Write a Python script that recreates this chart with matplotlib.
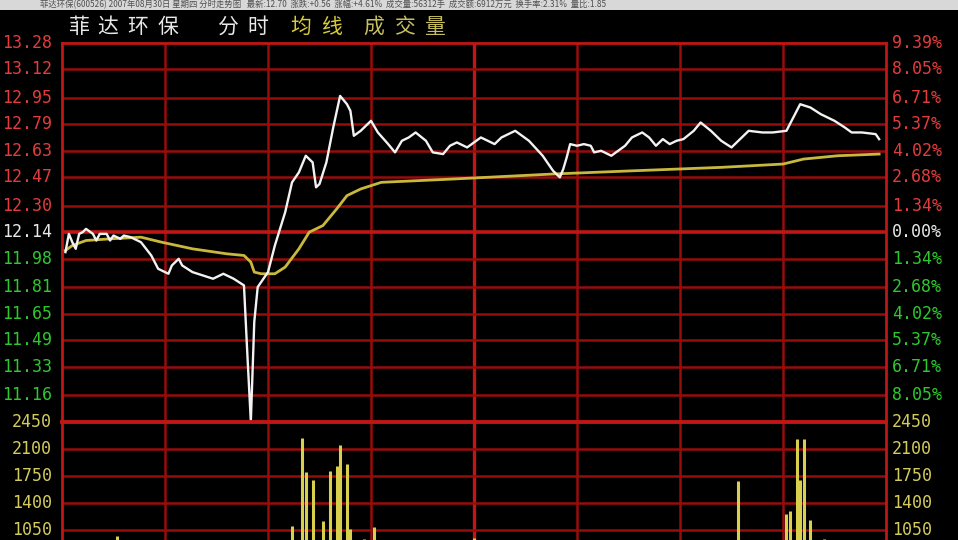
import matplotlib
matplotlib.use("Agg")
import matplotlib.pyplot as plt
from matplotlib.patches import Rectangle

# intraday price (minute, price)
price_min = [1, 2, 3, 4, 5, 6, 7, 9, 10, 11,
             13, 14, 15, 17, 18, 20, 23, 26, 28, 31,
             32, 34, 35, 38, 44, 47, 50, 53, 54, 55,
             56, 57, 58, 60, 62, 65, 67, 69, 71, 73,
             74, 75, 77, 79, 81, 83, 84, 85, 87, 90,
             92, 95, 97, 99, 101, 103, 106, 108, 111, 113,
             115, 118, 122, 126, 128, 132, 136, 140, 143, 145,
             146, 147, 148, 150, 152, 154, 155, 157, 160, 162,
             164, 166, 169, 171, 173, 175, 177, 179, 181, 184,
             186, 189, 192, 195, 198, 200, 204, 207, 211, 213,
             215, 218, 221, 225, 228, 230, 233, 237, 238]
price_val = [12.02, 12.13, 12.08, 12.04, 12.13, 12.14, 12.16, 12.13, 12.09, 12.13,
             12.13, 12.09, 12.12, 12.10, 12.12, 12.11, 12.08, 12.00, 11.92, 11.89,
             11.94, 11.98, 11.94, 11.90, 11.86, 11.89, 11.86, 11.82, 11.40, 11.00,
             11.60, 11.81, 11.84, 11.90, 12.06, 12.26, 12.44, 12.50, 12.60, 12.56,
             12.41, 12.43, 12.56, 12.77, 12.96, 12.91, 12.87, 12.72, 12.75, 12.81,
             12.74, 12.67, 12.62, 12.69, 12.71, 12.74, 12.69, 12.62, 12.61, 12.66,
             12.68, 12.65, 12.71, 12.67, 12.71, 12.75, 12.69, 12.60, 12.51, 12.47,
             12.52, 12.59, 12.67, 12.66, 12.67, 12.66, 12.62, 12.63, 12.60, 12.63,
             12.66, 12.71, 12.74, 12.71, 12.66, 12.70, 12.67, 12.69, 12.70, 12.75,
             12.80, 12.75, 12.69, 12.65, 12.71, 12.75, 12.74, 12.74, 12.75, 12.83,
             12.91, 12.89, 12.85, 12.81, 12.77, 12.74, 12.74, 12.73, 12.70]

# average price line
avg_min = [1, 3, 7, 14, 23, 29, 38, 48, 53, 55,
           56, 58, 62, 65, 69, 72, 76, 80, 83, 87,
           93, 114, 143, 167, 192, 210, 216, 226, 238]
avg_val = [12.03, 12.06, 12.09, 12.10, 12.11, 12.08, 12.04, 12.01, 12.00, 11.96,
           11.90, 11.89, 11.89, 11.93, 12.04, 12.14, 12.18, 12.28, 12.36, 12.40,
           12.44, 12.46, 12.49, 12.51, 12.53, 12.55, 12.58, 12.60, 12.61]

# volume bars (only the tall ones show above the crop)
vol_min = [16, 67, 70, 71, 73, 76, 78, 80, 81, 83, 84, 88, 91, 120,
           197, 211, 212, 214, 215, 216, 218, 222]
vol_val = [970, 1100, 2233, 1797, 1689, 1166, 1810, 1871, 2146, 1907, 1058, 931, 1088, 948,
           1680, 1254, 1297, 2220, 1698, 2220, 1175, 930]

pre_close = 12.14
price_ticks = [13.28, 13.12, 12.95, 12.79, 12.63, 12.47, 12.30, 12.14,
               11.98, 11.81, 11.65, 11.49, 11.33, 11.16]
price_labels = ["13.28", "13.12", "12.95", "12.79", "12.63", "12.47", "12.30", "12.14",
                "11.98", "11.81", "11.65", "11.49", "11.33", "11.16"]
pct_labels = ["9.39%", "8.05%", "6.71%", "5.37%", "4.02%", "2.68%", "1.34%", "0.00%",
              "1.34%", "2.68%", "4.02%", "5.37%", "6.71%", "8.05%"]
vol_ticks = [2450, 2100, 1750, 1400, 1050]
vol_labels = ["2450", "2100", "1750", "1400", "1050"]

header_white = ["菲达环保", "分时"]
header_yellow = ["均线", "成交量"]
top_caption = ("菲达环保(600526) 2007年08月30日 星期四 分时走势图   最新:12.70  涨跌:+0.56  "
               "涨幅:+4.61%  成交量:56312手  成交额:6912万元  换手率:2.31%  量比:1.85")

plt.rcParams['font.family'] = ['DejaVu Sans']
W, H = 958, 540
fig = plt.figure(figsize=(W / 100, H / 100), dpi=100, facecolor='black')

def fx(px):
    return px / W

def fy(py):
    return 1 - py / H

left, right = 62, 886
top, mid, bottom = 42.7, 421.7, 610.7
ax = fig.add_axes([fx(left), fy(mid), fx(right - left), fy(top) - fy(mid)])
axv = fig.add_axes([fx(left), fy(bottom), fx(right - left), fy(mid) - fy(bottom)])

grid_c = '#990c0c'
thick_c = '#c01616'
red_c = '#e23c3c'
green_c = '#2ec82e'
white_c = '#e8e8e8'
yel_c = '#d4cc5a'

for a in (ax, axv):
    a.set_facecolor('black')
    a.set_xlim(0, 240)
    a.set_xticks([])
    a.set_yticks([])
    for s in a.spines.values():
        s.set_color(thick_c)
        s.set_linewidth(2)
    for k in range(1, 8):
        a.axvline(k * 30, color=thick_c if k == 4 else grid_c,
                  lw=2.4 if k == 4 else 1.8, zorder=1)

ax.set_ylim(11.00, 13.28)
axv.set_ylim(0, 2450)

for p in price_ticks[1:]:
    ax.axhline(p, color=thick_c if p == pre_close else grid_c,
               lw=2.6 if p == pre_close else 1.8, zorder=1)
for v in vol_ticks[1:]:
    axv.axhline(v, color=grid_c, lw=1.8, zorder=1)
axv.spines['top'].set_linewidth(2.8)

# lines
ax.plot(avg_min, avg_val, color='#c8b83e', lw=2.0, zorder=3)
ax.plot(price_min, price_val, color='#f2f2f2', lw=1.7, zorder=4)
axv.vlines(vol_min, 0, vol_val, color='#d8d04c', lw=2.2, zorder=3)

# axis labels
lab_font = dict(fontsize=12, family='DejaVu Sans Mono', va='center', clip_on=False)
lx = (52 - left) / (right - left)
rx = (892 - left) / (right - left)
for p, lab, pc in zip(price_ticks, price_labels, pct_labels):
    if p > pre_close:
        c = red_c
    elif p < pre_close:
        c = green_c
    else:
        c = white_c
    ax.text(lx, p, lab, color=c, ha='right', transform=ax.get_yaxis_transform(), **lab_font)
    ax.text(rx, p, pc, color=c, ha='left', transform=ax.get_yaxis_transform(), **lab_font)
for v, lab in zip(vol_ticks, vol_labels):
    axv.text(lx, v, lab, color=yel_c, ha='right', transform=axv.get_yaxis_transform(), **lab_font)
    axv.text(rx, v, lab, color=yel_c, ha='left', transform=axv.get_yaxis_transform(), **lab_font)

# header, drawn char by char to get the wide bitmap-font look
cjk = ['Noto Sans CJK SC', 'DejaVu Sans']
def wide_text(s, x0, color):
    for i, ch in enumerate(s):
        fig.text(fx(x0 + i * 30), fy(27), ch, color=color, fontsize=15,
                 ha='center', va='center', family=cjk)

wide_text(header_white[0], 78, white_c)
wide_text(header_white[1], 228, white_c)
wide_text(header_yellow[0], 301, '#d8cc38')
wide_text(header_yellow[1], 374, '#c8c060')

# thin caption strip at the very top
fig.patches.append(Rectangle((0, fy(10)), 1, 1 - fy(10), transform=fig.transFigure,
                             facecolor='#d8d8d8', edgecolor='none', zorder=0))
fig.text(fx(40), fy(5), top_caption, color='#505050', fontsize=6,
         ha='left', va='center', family=cjk)

fig.savefig('out.png', dpi=100, facecolor='black')
